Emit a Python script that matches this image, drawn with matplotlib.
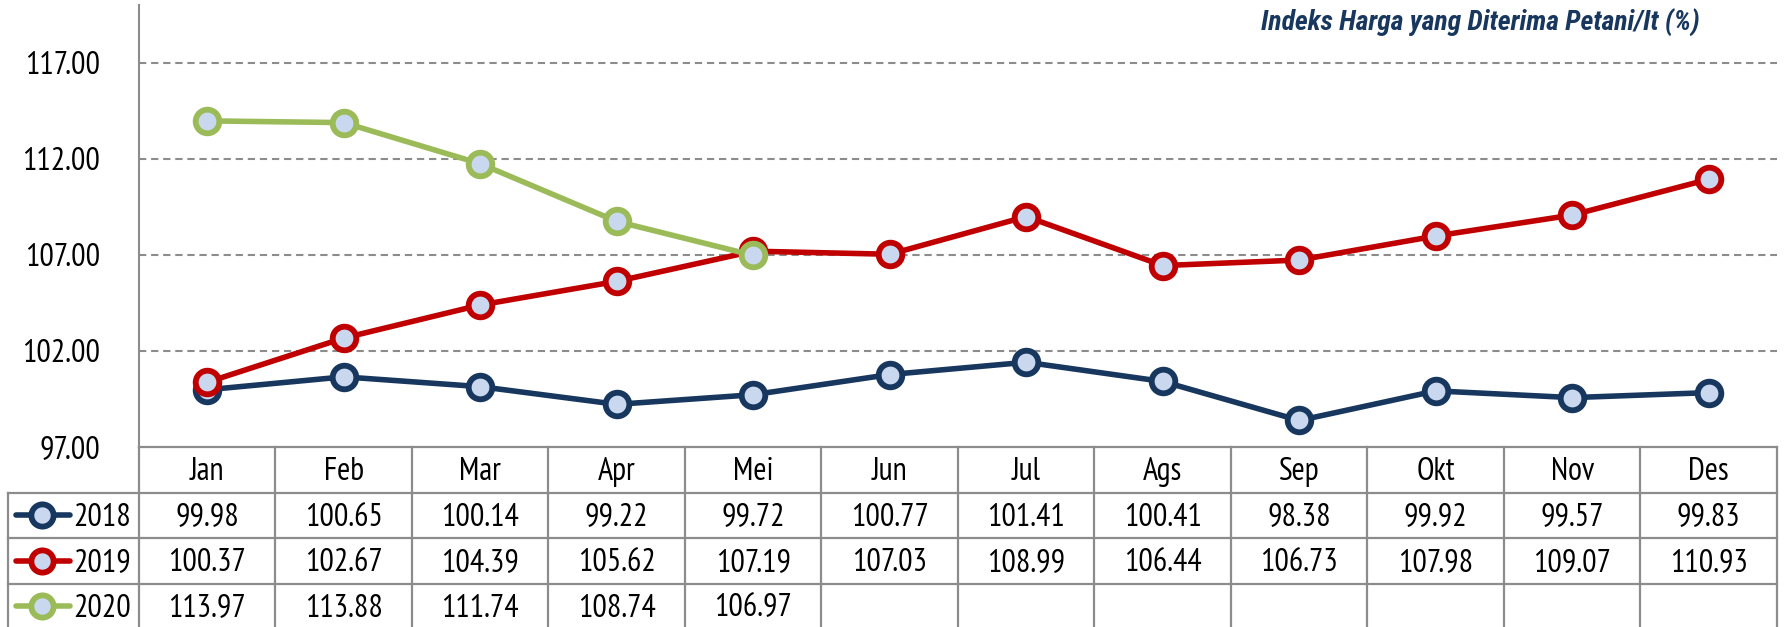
import matplotlib.pyplot as plt

# --- data ---
months = ["Jan", "Feb", "Mar", "Apr", "Mei", "Jun", "Jul", "Ags", "Sep", "Okt", "Nov", "Des"]
years = ["2018", "2019", "2020"]
v2018 = [99.98, 100.65, 100.14, 99.22, 99.72, 100.77, 101.41, 100.41, 98.38, 99.92, 99.57, 99.83]
v2019 = [100.37, 102.67, 104.39, 105.62, 107.19, 107.03, 108.99, 106.44, 106.73, 107.98, 109.07, 110.93]
v2020 = [113.97, 113.88, 111.74, 108.74, 106.97]
yticks = [97, 102, 107, 112, 117]
title = "Indeks Harga yang Diterima Petani/It (%)"

series = [v2018, v2019, v2020]
colors = ["#17375E", "#C00000", "#9BBB59"]
marker_face = "#C9D8EE"
grid_col = "#8C8C8C"

plt.rcParams['font.family'] = ['PT Sans Narrow', 'Archivo Narrow', 'Roboto Condensed', 'DejaVu Sans']
title_font = ['Roboto Condensed', 'Barlow Condensed', 'Archivo Narrow', 'DejaVu Sans']

W, H = 1788, 627
fig = plt.figure(figsize=(W / 100, H / 100), dpi=100)

# pixel layout
x_left, x_right = 139, 1777
y_top, y_bot = 5, 447
tbl_left = 8
row_h = 45.5
col_w = (x_right - x_left) / 12.0
fs = 23

ax = fig.add_axes([x_left / W, 1 - y_bot / H, (x_right - x_left) / W, (y_bot - y_top) / H])
ax.set_xlim(-0.5, 11.5)
ax.set_ylim(97, 120)
ax.set_yticks(yticks)
ax.set_yticklabels([f"{t:.2f}" for t in yticks], fontsize=fs)
ax.tick_params(axis='y', length=0, pad=28)
ax.set_xticks([])
for t in yticks[1:]:
    ax.axhline(t, color=grid_col, lw=1.5, ls=(0, (3.5, 2.3)), zorder=1)
for s in ["top", "right", "bottom"]:
    ax.spines[s].set_visible(False)
ax.spines["left"].set_color(grid_col)
ax.spines["left"].set_linewidth(1.5)

for vals, c in zip(series, colors):
    ax.plot(range(len(vals)), vals, color=c, lw=4, marker='o', ms=17,
            mfc=marker_face, mec=c, mew=4.2, zorder=3, clip_on=False)

fig.text(1700 / W, 1 - 31 / H, title, ha='right', va='baseline', fontsize=20,
         fontweight='bold', fontstyle='italic', color="#17375E", family=title_font)

# --- data table below the plot ---
tax = fig.add_axes([tbl_left / W, 0, (x_right - tbl_left) / W, (H - y_bot) / H])
x0 = -0.5 - (x_left - tbl_left) / col_w
n_rows_vis = (H - y_bot) / row_h
tax.set_xlim(x0, 11.5)
tax.set_ylim(n_rows_vis, 0)
tax.axis('off')

lw_t = 1.6
tax.plot([-0.5, 11.5], [0, 0], color=grid_col, lw=lw_t, clip_on=False)
for k in range(13):
    tax.plot([-0.5 + k, -0.5 + k], [0, n_rows_vis + 0.2], color=grid_col, lw=lw_t, clip_on=False)
tax.plot([x0, x0], [1, n_rows_vis + 0.2], color=grid_col, lw=lw_t, clip_on=False)
for r in range(1, 4):
    tax.plot([x0, 11.5], [r, r], color=grid_col, lw=lw_t, clip_on=False)

for i, m in enumerate(months):
    tax.text(i, 0.55, m, ha='center', va='center', fontsize=fs)

px = lambda p: x0 + (p - tbl_left) / col_w
for r, (yr, vals, c) in enumerate(zip(years, series, colors)):
    yy = r + 1.5
    tax.plot([px(16), px(70)], [yy, yy], color=c, lw=4, solid_capstyle='round')
    tax.plot([px(42)], [yy], marker='o', ms=16, mfc=marker_face, mec=c, mew=4.2, color=c)
    tax.text(px(73), yy + 0.05, yr, ha='left', va='center', fontsize=fs)
    for i, v in enumerate(vals):
        tax.text(i, yy + 0.05, f"{v:.2f}", ha='center', va='center', fontsize=fs)

fig.savefig("out.png", dpi=100)
